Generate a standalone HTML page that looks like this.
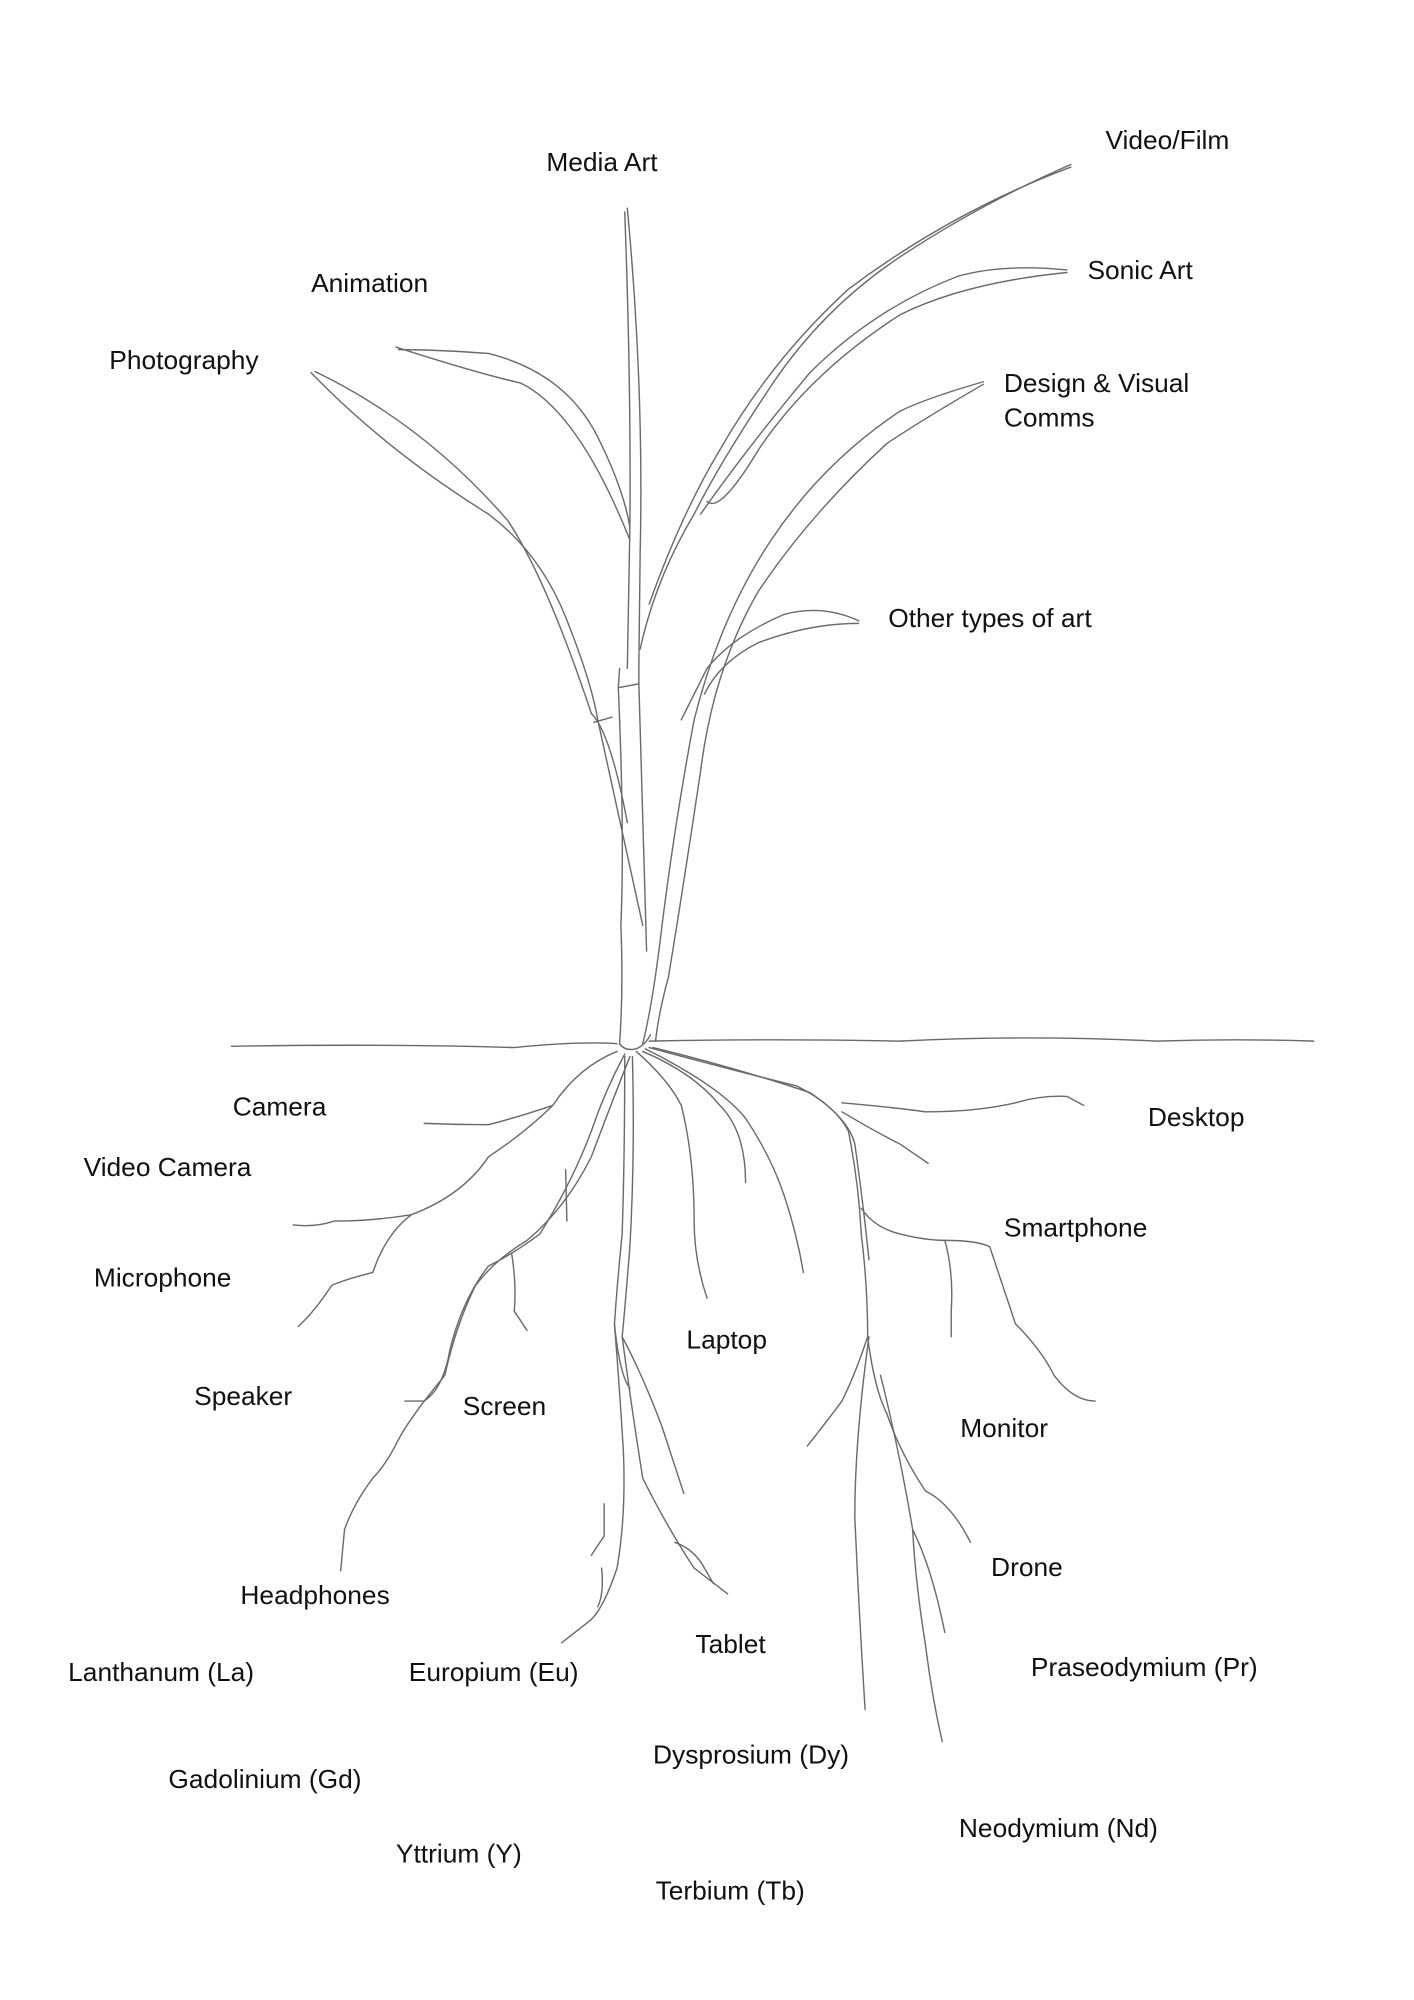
<!DOCTYPE html>
<html><head><meta charset="utf-8"><style>
html,body{margin:0;padding:0;background:#fff;}
svg{display:block}
text{font-family:"Liberation Sans",sans-serif;font-size:20.5px;fill:#111;}
</style></head><body>
<svg width="1414" height="2000" viewBox="0 0 1100 1556" xmlns="http://www.w3.org/2000/svg">
<g fill="none" stroke="#6a6a6a" stroke-width="1.1" stroke-linecap="round" stroke-linejoin="round">
<path d="M486,165 Q491,300 490,410 L488,520"/>
<path d="M488,162 Q501,300 498,430 L497,515"/>
<path d="M481,535 L497,532"/>
<path d="M482,520 L481,535 Q486,650 483,720 Q485,770 482,812"/>
<path d="M497,515 L497,532 Q500,650 503,740"/>
<path d="M242,290 Q300,350 380,400 Q420,430 440,480 Q460,530 465,560 L500,720"/>
<path d="M245,289 Q330,330 395,405 Q425,450 460,555 Q475,570 488,640"/>
<path d="M462,562 L476,558"/>
<path d="M308,270 Q370,290 405,298 Q450,320 490,420"/>
<path d="M310,272 Q340,272 380,275 Q440,290 465,340 Q485,380 490,410"/>
<path d="M833,128 Q760,160 700,200 Q640,240 600,300 Q560,360 540,400 Q510,450 498,505"/>
<path d="M833,130 Q740,165 660,225 Q600,280 560,350 Q530,400 505,470"/>
<path d="M830,210 Q780,205 745,215 Q680,240 630,290 Q580,350 545,400"/>
<path d="M830,212 Q750,220 700,245 Q630,290 590,350 Q560,400 550,390"/>
<path d="M765,297 Q720,310 700,320 Q640,360 600,420 Q560,480 540,560 Q525,640 515,720 Q508,780 500,812"/>
<path d="M765,299 Q720,325 690,345 Q630,400 590,460 Q555,520 545,600 Q530,700 520,760 Q512,790 510,810"/>
<path d="M668,483 Q640,470 610,478 Q570,495 550,520 Q540,540 530,560"/>
<path d="M668,485 Q630,485 590,500 Q560,515 548,540"/>
<path d="M482,812 Q486,818 495,816 Q502,813 506,805"/>
<path d="M180,814 Q300,812 400,815 Q450,810 480,812 M505,810 Q600,808 700,810 Q800,805 900,810 Q960,808 1022,810"/>
<path d="M480,818 Q450,830 430,860 Q410,880 380,900 Q360,930 320,945 Q290,950 260,950 Q245,955 228,953"/>
<path d="M320,945 Q300,960 290,990 Q270,995 258,1000 Q245,1020 232,1032"/>
<path d="M430,860 Q400,870 380,875 Q355,875 330,874"/>
<path d="M486,820 Q470,850 460,880 Q445,920 420,960 Q400,975 380,985 Q360,1010 350,1050 Q345,1080 330,1090 Q315,1110 310,1120 Q300,1140 290,1150 Q275,1170 268,1190 L265,1222"/>
<path d="M490,822 Q475,860 460,900 Q440,940 410,965 Q385,980 370,1000 Q355,1030 346,1070"/>
<path d="M440,910 L441,950"/>
<path d="M398,975 Q402,1000 400,1020 L410,1035"/>
<path d="M346,1070 L330,1090 L315,1090"/>
<path d="M486,822 Q486,900 484,960 Q480,1000 478,1030 Q482,1080 485,1130 Q487,1180 480,1220 Q470,1250 460,1260 L437,1278"/>
<path d="M492,822 Q494,900 490,970 Q486,1020 484,1040 Q492,1100 500,1150 Q520,1190 540,1220 L566,1240"/>
<path d="M484,1040 Q500,1070 515,1110 L532,1162"/>
<path d="M478,1030 Q482,1070 490,1080"/>
<path d="M470,1170 L470,1195 L460,1210"/>
<path d="M525,1200 Q540,1205 548,1220 L555,1232"/>
<path d="M468,1220 Q470,1240 465,1250"/>
<path d="M495,818 Q520,840 530,860 Q540,900 540,950 Q540,980 550,1010"/>
<path d="M500,818 Q540,835 560,860 Q580,880 580,920"/>
<path d="M502,816 Q560,845 580,870 Q600,900 610,930 Q620,960 625,990"/>
<path d="M505,815 Q560,830 620,845 Q650,860 660,880 Q668,920 670,960 Q675,1000 675,1040 Q665,1070 655,1090 Q640,1110 628,1125"/>
<path d="M508,815 Q570,830 630,850 Q660,870 665,890 Q672,940 676,980"/>
<path d="M655,865 Q680,880 700,890 L722,905"/>
<path d="M655,858 Q700,862 720,865 Q760,865 790,858 Q810,852 830,853 L843,860"/>
<path d="M670,940 Q680,955 700,960 Q720,965 735,965 Q760,965 770,970"/>
<path d="M735,965 Q742,990 740,1020 L740,1040"/>
<path d="M770,970 Q780,1000 790,1030 Q810,1050 820,1070 Q835,1090 852,1090"/>
<path d="M675,1040 Q680,1080 690,1100 Q700,1130 720,1160 Q740,1170 755,1200"/>
<path d="M676,1040 Q665,1120 665,1180 Q668,1250 673,1330"/>
<path d="M685,1070 Q700,1130 710,1190 Q725,1220 735,1270"/>
<path d="M710,1190 Q712,1230 720,1280 Q725,1320 733,1355"/>
</g>
<g>
<text x="425" y="133">Media Art</text>
<text x="860" y="116">Video/Film</text>
<text x="846" y="217">Sonic Art</text>
<text x="242" y="227">Animation</text>
<text x="85" y="287">Photography</text>
<text x="781" y="305">Design &amp; Visual</text>
<text x="781" y="332">Comms</text>
<text x="691" y="488">Other types of art</text>
<text x="181" y="868">Camera</text>
<text x="893" y="876">Desktop</text>
<text x="65" y="915">Video Camera</text>
<text x="781" y="962">Smartphone</text>
<text x="73" y="1001">Microphone</text>
<text x="534" y="1049">Laptop</text>
<text x="151" y="1093">Speaker</text>
<text x="360" y="1101">Screen</text>
<text x="747" y="1118">Monitor</text>
<text x="771" y="1226">Drone</text>
<text x="187" y="1248">Headphones</text>
<text x="541" y="1286">Tablet</text>
<text x="53" y="1308">Lanthanum (La)</text>
<text x="318" y="1308">Europium (Eu)</text>
<text x="802" y="1304">Praseodymium (Pr)</text>
<text x="508" y="1372">Dysprosium (Dy)</text>
<text x="131" y="1391">Gadolinium (Gd)</text>
<text x="746" y="1429">Neodymium (Nd)</text>
<text x="308" y="1449">Yttrium (Y)</text>
<text x="510" y="1478">Terbium (Tb)</text>
</g>
</svg>
</body></html>
